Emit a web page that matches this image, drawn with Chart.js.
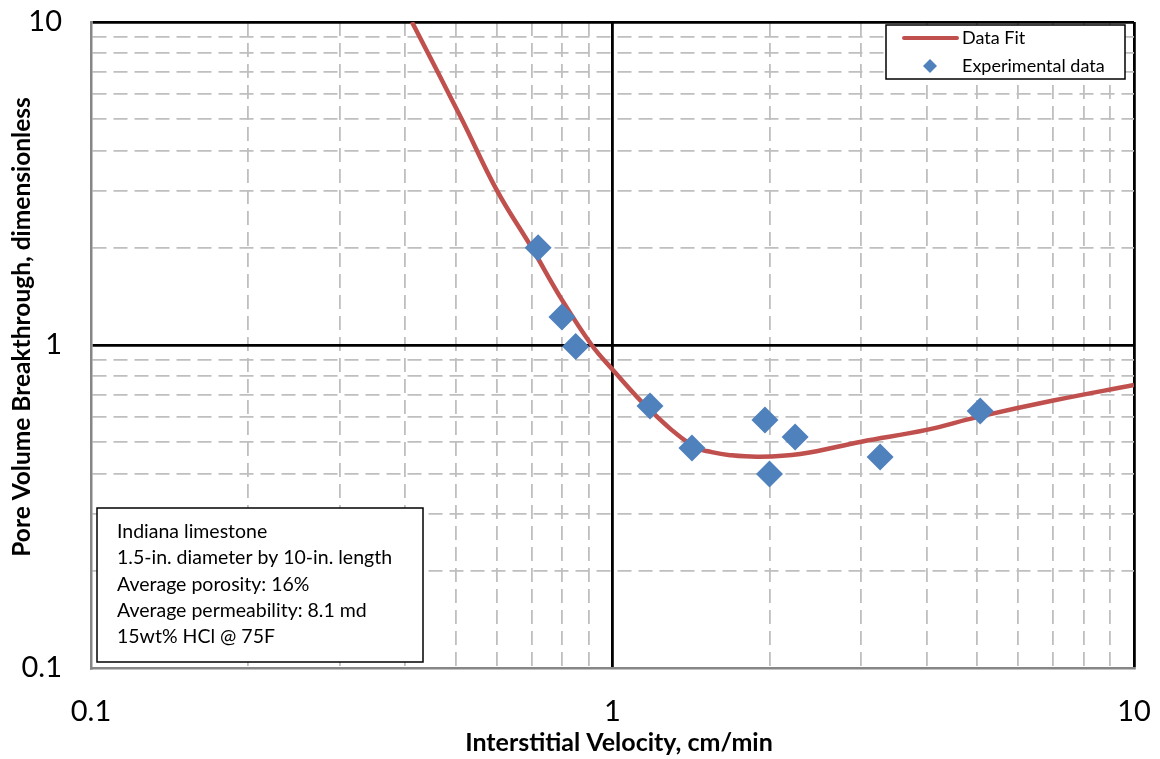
<!DOCTYPE html>
<html>
<head>
<meta charset="utf-8">
<script src="https://cdn.jsdelivr.net/npm/chart.js@4"></script>
<style>
  html, body { margin: 0; padding: 0; background: #fff; }
  #wrap { width: 1160px; height: 759px; }
</style>
</head>
<body>
<div id="wrap"><canvas id="chartBreakthrough" width="1160" height="759"></canvas></div>
<script>
// experimental coreflood points
const expVelocity = [0.72, 0.80, 0.85, 1.18, 1.42, 1.96, 2.0, 2.24, 3.26, 5.07];
const expPV = [2.0, 1.22, 0.99, 0.647, 0.48, 0.586, 0.399, 0.519, 0.45, 0.625];

// fitted curve
const fitVelocity = [0.4125, 0.514, 0.601, 0.700, 0.80, 0.912, 1.0, 1.18, 1.43, 1.55, 1.68, 1.91, 2.29, 3.0, 4.0, 5.0, 7.0, 10];
const fitPV = [10, 5, 3, 2, 1.38, 1.0, 0.84, 0.629, 0.485, 0.466, 0.456, 0.451, 0.46, 0.502, 0.546, 0.598, 0.673, 0.752];

const decades = [0.1, 1, 10];
const decadeLabels = ["0.1", "1", "10"];
const infoLines = [
    "Indiana limestone",
    "1.5-in. diameter by 10-in. length",
    "Average porosity: 16%",
    "Average permeability: 8.1 md",
    "15wt% HCl @ 75F"
];

const FONT = "Lato, 'Open Sans', sans-serif";

function logTicks() {
    let out = [];
    for (let d = 0; d < decades.length - 1; d++) {
        for (let k = 1; k < 10; k++) out.push(decades[d] * k);
    }
    out.push(decades[decades.length - 1]);
    return out;
}

function isDecade(v) {
    let l = Math.log10(v);
    return Math.abs(l - Math.round(l)) < 1e-6;
}

function gridColor(ctx) {
    if (!ctx.tick) return "#000";
    let v = ctx.tick.value;
    if (Math.abs(v - 0.1) < 1e-9) return "rgba(0,0,0,0)";
    return isDecade(v) ? "#000" : "#bfbfbf";
}

function gridWidth(ctx) {
    if (!ctx.tick) return 2;
    return isDecade(ctx.tick.value) ? 2.8 : 1.8;
}

function gridDash(ctx) {
    if (!ctx.tick) return [];
    return isDecade(ctx.tick.value) ? [] : [14, 7];
}

function axisOptions(fitSize, horizontal) {
    return {
        type: "logarithmic",
        min: 0.1,
        max: 10,
        afterBuildTicks: (scale) => {
            scale.ticks = logTicks().map(v => ({ value: v }));
        },
        afterFit: (scale) => {
            if (horizontal) scale.height = fitSize; else scale.width = fitSize;
        },
        ticks: { display: false, autoSkip: false },
        grid: {
            color: gridColor,
            lineWidth: gridWidth,
            drawTicks: false,
            tickLength: 0
        },
        border: {
            display: true,
            color: "#868686",
            width: 2.5,
            dash: gridDash
        }
    };
}

// tick labels, legend, info box and axis titles
const decorations = {
    id: "decorations",
    afterDraw(chart) {
        const c = chart.ctx;
        const xs = chart.scales.x, ys = chart.scales.y;
        c.save();

        c.fillStyle = "#000";
        c.font = "29px " + FONT;
        c.textBaseline = "middle";
        c.textAlign = "center";
        decades.forEach((v, i) => c.fillText(decadeLabels[i], xs.getPixelForValue(v), 712));
        c.textAlign = "right";
        decades.forEach((v, i) => c.fillText(decadeLabels[i], 62, ys.getPixelForValue(v)));

        // legend
        c.fillStyle = "#fff";
        c.fillRect(886, 25, 239, 54);
        c.strokeStyle = "#000";
        c.lineWidth = 1.5;
        c.strokeRect(886, 25, 239, 54);
        c.strokeStyle = "#c0504d";
        c.lineWidth = 4;
        c.lineCap = "round";
        c.beginPath();
        c.moveTo(904, 38);
        c.lineTo(957, 38);
        c.stroke();
        c.fillStyle = "#4f81bd";
        c.beginPath();
        c.moveTo(930, 59);
        c.lineTo(937, 66);
        c.lineTo(930, 73);
        c.lineTo(923, 66);
        c.closePath();
        c.fill();
        c.fillStyle = "#000";
        c.font = "18px " + FONT;
        c.textAlign = "left";
        c.fillText("Data Fit", 962, 38);
        c.fillText("Experimental data", 962, 66);

        // info box
        c.fillStyle = "#fff";
        c.fillRect(97, 508, 326, 154);
        c.strokeStyle = "#000";
        c.lineWidth = 1.5;
        c.strokeRect(97, 508, 326, 154);
        c.fillStyle = "#000";
        c.font = "19.5px " + FONT;
        infoLines.forEach((t, i) => c.fillText(t, 117, 532 + i * 26.2));

        // axis titles
        c.font = "bold 25px " + FONT;
        c.textAlign = "center";
        c.fillText("Interstitial Velocity, cm/min", 619, 743);
        c.font = "bold 24.5px " + FONT;
        c.translate(22, 327);
        c.rotate(-Math.PI / 2);
        c.fillText("Pore Volume Breakthrough, dimensionless", 0, 0);

        c.restore();
    }
};

const ctxBreak = document.getElementById("chartBreakthrough");
const chartBreak = new Chart(ctxBreak, {
    type: "scatter",
    data: {
        datasets: [
            {
                label: "Experimental data",
                data: expVelocity.map((v, i) => ({ x: v, y: expPV[i] })),
                pointStyle: "rectRot",
                pointRadius: 13.5,
                pointHoverRadius: 13.5,
                pointBackgroundColor: "#4f81bd",
                pointBorderWidth: 0,
                showLine: false,
                order: 0
            },
            {
                label: "Data Fit",
                data: fitVelocity.map((v, i) => ({ x: v, y: fitPV[i] })),
                showLine: true,
                borderColor: "#c0504d",
                borderWidth: 4.5,
                pointRadius: 0,
                tension: 0.4,
                order: 1
            }
        ]
    },
    options: {
        responsive: false,
        animation: false,
        layout: { padding: { top: 22, right: 26, left: 0, bottom: 0 } },
        plugins: {
            legend: { display: false },
            tooltip: { enabled: false },
            title: { display: false }
        },
        scales: {
            x: axisOptions(91, true),
            y: axisOptions(91, false)
        }
    },
    plugins: [decorations]
});
</script>
</body>
</html>
